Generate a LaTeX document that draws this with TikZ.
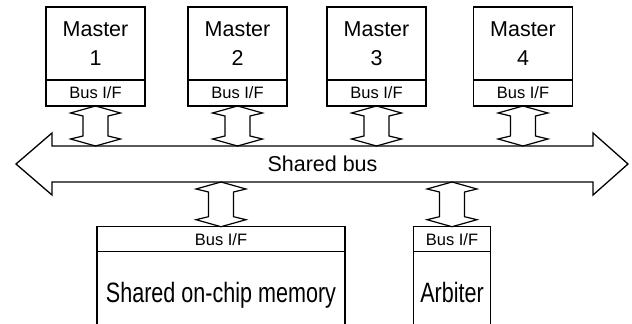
\documentclass[tikz,border=0pt]{standalone}
\usepackage{fontspec}
\setmainfont{Liberation Sans}
\newfontfamily\narrowfont[FakeStretch=0.77]{Liberation Sans}
\usetikzlibrary{positioning,calc}

% two-headed link between a bus interface and the bus
\newcommand{\buslink}[2]{%
  \draw[link] let \p1=(#1), \p2=(#2) in
    (\p1) -- (\x1-25pt,\y1-7pt) -- (\x1-12.5pt,\y1-10pt) -- (\x1-12.5pt,\y2+10pt)
    -- (\x1-25pt,\y2+7pt) -- (\p2) -- (\x1+25pt,\y2+7pt) -- (\x1+12.5pt,\y2+10pt)
    -- (\x1+12.5pt,\y1-10pt) -- (\x1+25pt,\y1-7pt) -- cycle;}

\begin{document}
\begin{tikzpicture}[x=1pt,y=1pt,
    master/.style={draw,line width=1.2pt,outer sep=0pt,inner sep=0pt,
      minimum width=99pt,minimum height=73pt,align=center,
      font=\fontsize{21.5}{29}\selectfont},
    busif/.style={draw,line width=1.2pt,outer sep=0pt,inner sep=0pt,
      minimum height=26pt,font=\fontsize{16.5}{19}\selectfont},
    unit/.style={draw,line width=1.2pt,outer sep=0pt,inner sep=0pt,
      minimum height=88pt,text height=20pt,text depth=6pt,
      font=\narrowfont\fontsize{28}{32}\selectfont},
    link/.style={line width=1.2pt,line join=miter},
    busline/.style={line width=1.3pt}]
  \useasboundingbox (0,0) rectangle (632,324);
  \clip (0,0) rectangle (632,324);

  % masters
  \node[master] (m1) at (95.5,280.5) {Master\\1};
  \node[busif, minimum width=99pt, below=0pt of m1] (if1) {Bus I/F};
  \node[master] (m2) at (237.5,280.5) {Master\\2};
  \node[busif, minimum width=99pt, below=0pt of m2] (if2) {Bus I/F};
  \node[master] (m3) at (376.5,280.5) {Master\\3};
  \node[busif, minimum width=99pt, below=0pt of m3] (if3) {Bus I/F};
  \node[master] (m4) at (523,280.5) {Master\\4};
  \node[busif, minimum width=99pt, below=0pt of m4] (if4) {Bus I/F};

  % shared bus
  \node[outer sep=0pt, inner sep=0pt, minimum width=541pt, minimum height=36pt,
    font=\fontsize{21.5}{26}\selectfont] (bus) at (322.5,160) {Shared bus};
  \draw[busline] (bus.north west) -- ++(0,13) -- ([xshift=-36pt]bus.west)
    -- ++(36,-31) -- (bus.south west) -- (bus.south east) -- ++(0,-13)
    -- ([xshift=35pt]bus.east) -- ++(-35,31) -- (bus.north east) -- cycle;

  % memory and arbiter
  \node[busif, minimum width=248pt, minimum height=25pt] (ifmem) at (221,84.8) {Bus I/F};
  \node[unit, minimum width=248pt, below=0pt of ifmem] (mem) {Shared on-chip memory};
  \node[busif, minimum width=77pt, minimum height=25pt] (ifarb) at (452,84.8) {Bus I/F};
  \node[unit, minimum width=77pt, below=0pt of ifarb] (arb) {Arbiter};

  % links to the bus
  \buslink{if1.south}{if1.south |- bus.north}
  \buslink{if2.south}{if2.south |- bus.north}
  \buslink{if3.south}{if3.south |- bus.north}
  \buslink{if4.south}{if4.south |- bus.north}
  \buslink{ifmem.north |- bus.south}{ifmem.north}
  \buslink{ifarb.north |- bus.south}{ifarb.north}
\end{tikzpicture}
\end{document}
